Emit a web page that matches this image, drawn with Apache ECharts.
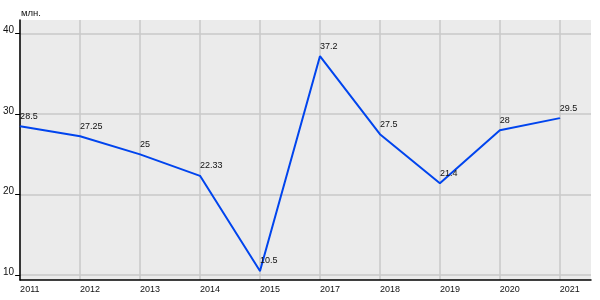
<!DOCTYPE html>
<html><head><meta charset="utf-8">
<script src="https://cdn.jsdelivr.net/npm/echarts@6/dist/echarts.min.js"></script>
<style>html,body{margin:0;padding:0;background:#fff}#c{width:600px;height:300px}</style>
</head><body><div id="c"></div>
<script>
const categories = ['2011','2012','2013','2014','2015','2017','2018','2019','2020','2021'];
const values = [28.5, 27.25, 25, 22.33, 10.5, 37.2, 27.5, 21.4, 28, 29.5];
const yTicks = [10, 20, 30, 40];
const unitLabel = 'млн.';

const chart = echarts.init(document.getElementById('c'), null, {renderer: 'canvas'});
const font = 'Liberation Sans, Arial, sans-serif';
chart.setOption({
  animation: false,
  textStyle: {fontFamily: font},
  grid: {left: 20, right: 9, top: 20, bottom: 20, show: true, backgroundColor: '#ebebeb', borderWidth: 0},
  graphic: [{type: 'text', left: 21, top: 8, style: {text: unitLabel, font: '9.5px ' + font, fill: '#111'}}],
  xAxis: {
    type: 'value', min: 0, max: 9.52, minInterval: 1, maxInterval: 1, splitNumber: 10,
    axisLine: {show: true, onZero: false, lineStyle: {color: '#000', width: 1.5}},
    axisTick: {show: false},
    axisLabel: {
      showMaxLabel: false, align: 'left', margin: 5, color: '#111', fontSize: 9,
      formatter: v => (Number.isInteger(v) && categories[v] !== undefined) ? categories[v] : ''
    },
    splitLine: {show: true, showMaxLine: false, lineStyle: {color: '#c8c8c8', width: 1.5}}
  },
  yAxis: {
    type: 'value', min: 9.38, max: 41.7, minInterval: 10, maxInterval: 10, splitNumber: 3,
    axisLine: {show: true, lineStyle: {color: '#000', width: 1.5}},
    axisTick: {show: true, length: 5, lineStyle: {color: '#000'}},
    axisLabel: {
      showMinLabel: false, showMaxLabel: false, margin: 6, color: '#111', fontSize: 10,
      verticalAlign: 'bottom', lineHeight: 6,
      formatter: v => yTicks.includes(v) ? String(v) : ''
    },
    splitLine: {show: true, showMinLine: false, showMaxLine: false, lineStyle: {color: '#c8c8c8', width: 1.5}}
  },
  series: [{
    type: 'line',
    data: values.map((v, i) => [i, v]),
    symbol: 'circle', symbolSize: 1,
    itemStyle: {color: '#0044ee'},
    lineStyle: {color: '#0044ee', width: 2},
    label: {show: true, position: 'top', distance: 5, align: 'left', fontSize: 9, color: '#111',
      formatter: p => String(p.value[1])}
  }]
});
</script></body></html>
